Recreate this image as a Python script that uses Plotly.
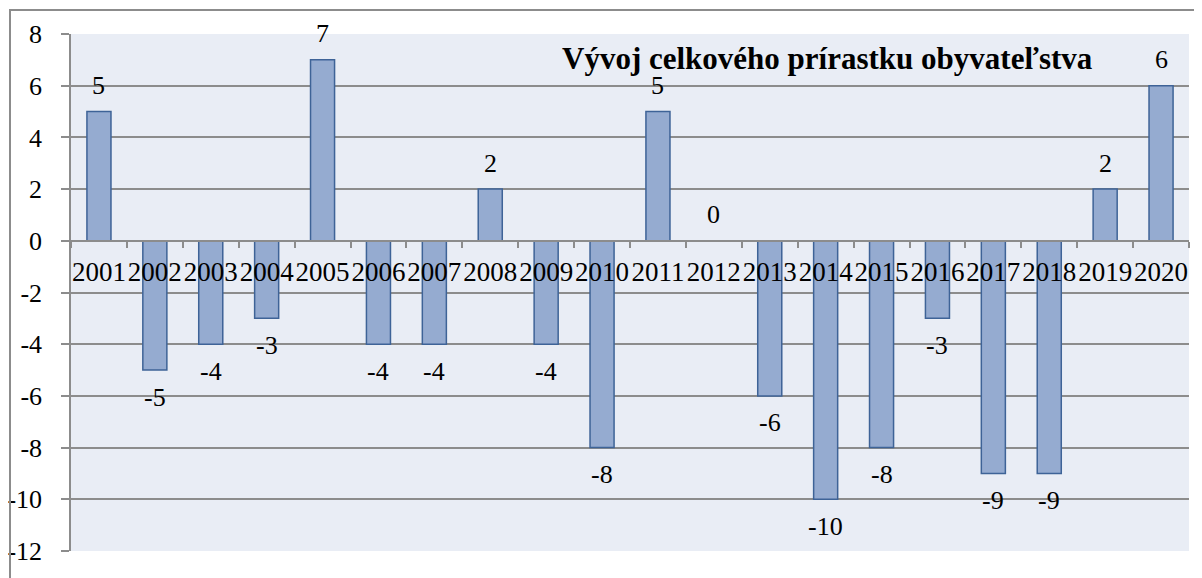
import plotly.graph_objects as go

years = [str(y) for y in range(2001, 2021)]
values = [5, -5, -4, -3, 7, -4, -4, 2, -4, -8, 5, 0, -6, -10, -8, -3, -9, -9, 2, 6]
title_text = "Vývoj celkového prírastku obyvateľstva"
y_ticks = list(range(-12, 9, 2))
y_ticktext = [str(v) for v in y_ticks]

# page body has an 8px default margin, so the figure starts at (8, 8)
OFF = 8
W, H = 1202 - OFF, 578 - OFF
ml, mr, mt, mb = 71 - OFF, 13, 34 - OFF, 27
pw, ph = W - ml - mr, H - mt - mb

FONT = "Liberation Serif, Times New Roman, serif"
GRID = "#8c8c8c"

fig = go.Figure()
fig.add_trace(go.Bar(
    x=years, y=values,
    marker=dict(color="#95abd0", line=dict(color="#3e6397", width=1.5)),
    hoverinfo="x+y",
))

for i, v in enumerate(values):
    fig.add_annotation(x=i, y=v, text=str(v), showarrow=False,
                       yshift=26 if v >= 0 else -27,
                       font=dict(family=FONT, size=26, color="black"))

fig.add_annotation(xref="paper", yref="paper", x=(827 - 71) / pw, y=(551 - 58) / ph,
                   text="<b>" + title_text + "</b>", showarrow=False,
                   font=dict(family=FONT, size=31, color="black"),
                   xanchor="center", yanchor="middle")

# outer chart border (left and top edges; right/bottom lie beyond the view)
bx = (OFF + 2 - 71) / pw
by = (551 - OFF - 2) / ph
fig.add_shape(type="rect", xref="paper", yref="paper",
              x0=bx, x1=(1202 + 20 - 71) / pw, y0=-(mb + 20) / ph, y1=by,
              line=dict(color="#8c8c8c", width=2), fillcolor="rgba(0,0,0,0)", layer="above")

fig.update_layout(
    width=W, height=H,
    margin=dict(l=ml, r=mr, t=mt, b=mb, pad=0, autoexpand=False),
    paper_bgcolor="white", plot_bgcolor="#e9edf5",
    bargap=0.57, showlegend=False,
    font=dict(family=FONT, color="black"),
    xaxis=dict(type="category", range=[-0.5, len(years) - 0.5], autorange=False,
               anchor="free", position=0.6, automargin=False,
               showline=True, linecolor=GRID, linewidth=1.5, tickangle=0,
               ticks="outside", tickson="boundaries", ticklen=6, tickcolor=GRID, tickwidth=1.5,
               showgrid=False, tickfont=dict(family=FONT, size=27), ticklabelstandoff=7),
    yaxis=dict(range=[-12, 8], autorange=False, tickvals=y_ticks, ticktext=y_ticktext,
               showgrid=True, gridcolor=GRID, gridwidth=1.5, automargin=False,
               zeroline=False, showline=True, linecolor=GRID, linewidth=1.5,
               ticks="outside", ticklen=8, tickcolor=GRID, tickwidth=1.5,
               tickfont=dict(family=FONT, size=26), ticklabelstandoff=14),
)

fig.write_html("out.html")
